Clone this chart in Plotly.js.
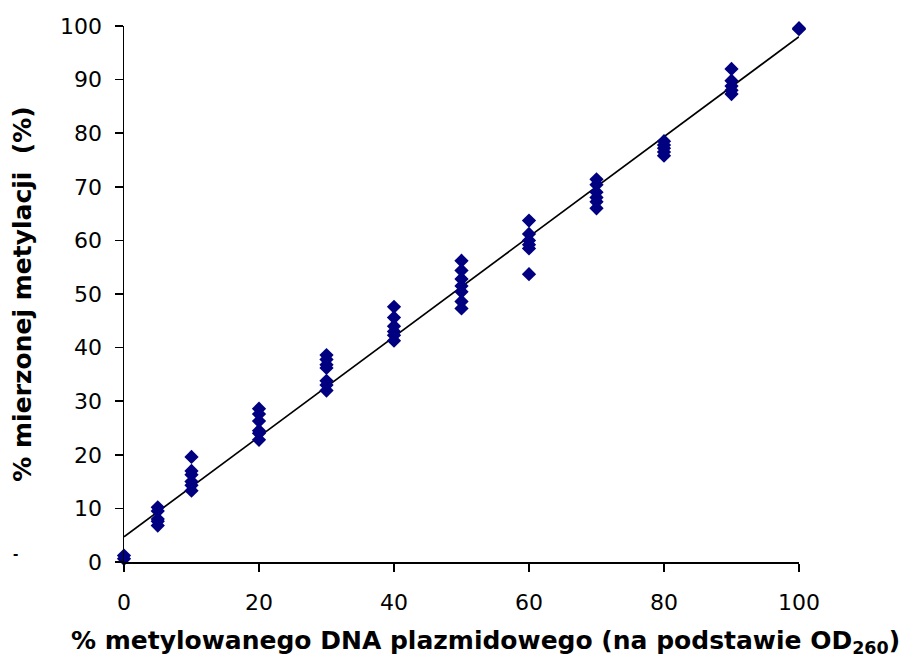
<!DOCTYPE html>
<html>
<head>
<meta charset="utf-8">
<script src="https://cdn.plot.ly/plotly-3.0.1.min.js"></script>
<style>html,body{margin:0;padding:0;background:#fff}#chart{width:910px;height:657px}</style>
</head>
<body>
<div id="chart"></div>
<script>
const xLevels = [0, 5, 10, 20, 30, 40, 50, 60, 70, 80, 90, 100];
const measured = [
  [0.6, 1.2],
  [10.2, 9.5, 8.0, 7.6, 6.8],
  [19.6, 17.0, 16.3, 15.0, 14.3, 13.3],
  [28.6, 27.6, 26.3, 24.5, 24.0, 22.8],
  [38.6, 37.8, 36.8, 36.2, 33.8, 33.0, 32.0],
  [47.6, 45.6, 44.0, 43.0, 42.3, 41.3],
  [56.2, 54.4, 52.8, 51.5, 50.4, 48.6, 47.3],
  [63.7, 61.2, 60.0, 59.2, 58.5, 53.7],
  [71.4, 70.4, 69.0, 68.0, 67.2, 66.0],
  [78.5, 77.8, 77.2, 76.5, 75.8],
  [92.0, 89.8, 88.8, 88.0, 87.3],
  [99.6, 99.4]
];
const fitX = [0, 100];
const fitY = [4.7, 98.0];
const xTitle = "% metylowanego DNA plazmidowego (na podstawie OD<sub>260</sub>)";
const yTitle = "% mierzonej metylacji  (%)";

const px = [], py = [];
xLevels.forEach((x, i) => measured[i].forEach(v => { px.push(x); py.push(v); }));

const traces = [
  {x: fitX, y: fitY, mode: 'lines', line: {color: '#000000', width: 1.7}, hoverinfo: 'skip', cliponaxis: false},
  {x: px, y: py, mode: 'markers', marker: {symbol: 'diamond', size: 11, color: '#000080', line: {width: 0}}, cliponaxis: false}
];

const tickFont = {family: 'DejaVu Sans', size: 22, color: '#000'};
const titleFont = {family: 'DejaVu Sans', size: 25, color: '#000', weight: 'bold'};

const layout = {
  width: 910, height: 657,
  margin: {l: 124, r: 111, t: 26, b: 95},
  paper_bgcolor: '#fff', plot_bgcolor: '#fff',
  showlegend: false,
  xaxis: {
    range: [0, 100], tickvals: [0, 20, 40, 60, 80, 100],
    showgrid: false, zeroline: false, showline: true, linecolor: '#000', linewidth: 1.5,
    ticks: 'outside', ticklen: 8, tickwidth: 1.5, tickcolor: '#000',
    tickfont: tickFont, ticklabelstandoff: 12
  },
  yaxis: {
    range: [0, 100], tickvals: [0, 10, 20, 30, 40, 50, 60, 70, 80, 90, 100],
    showgrid: false, zeroline: false, showline: true, linecolor: '#000', linewidth: 1.5,
    ticks: 'outside', ticklen: 8, tickwidth: 1.5, tickcolor: '#000',
    tickfont: tickFont, ticklabelstandoff: 8,
    title: {text: '<b>' + yTitle + '</b>', font: titleFont, standoff: 21}
  },
  annotations: [
    {text: '<b>' + xTitle + '</b>', xref: 'paper', yref: 'paper', x: 0.536, y: -0.1493,
     xanchor: 'center', yanchor: 'middle', showarrow: false, font: titleFont},
    {text: '-', xref: 'paper', yref: 'paper', x: -0.1674, y: -0.004, showarrow: false,
     font: {family: 'Liberation Sans, Arial, sans-serif', size: 16, color: '#000', weight: 'bold'}}
  ]
};

Plotly.newPlot('chart', traces, layout, {displayModeBar: false, staticPlot: true});
</script>
</body>
</html>
